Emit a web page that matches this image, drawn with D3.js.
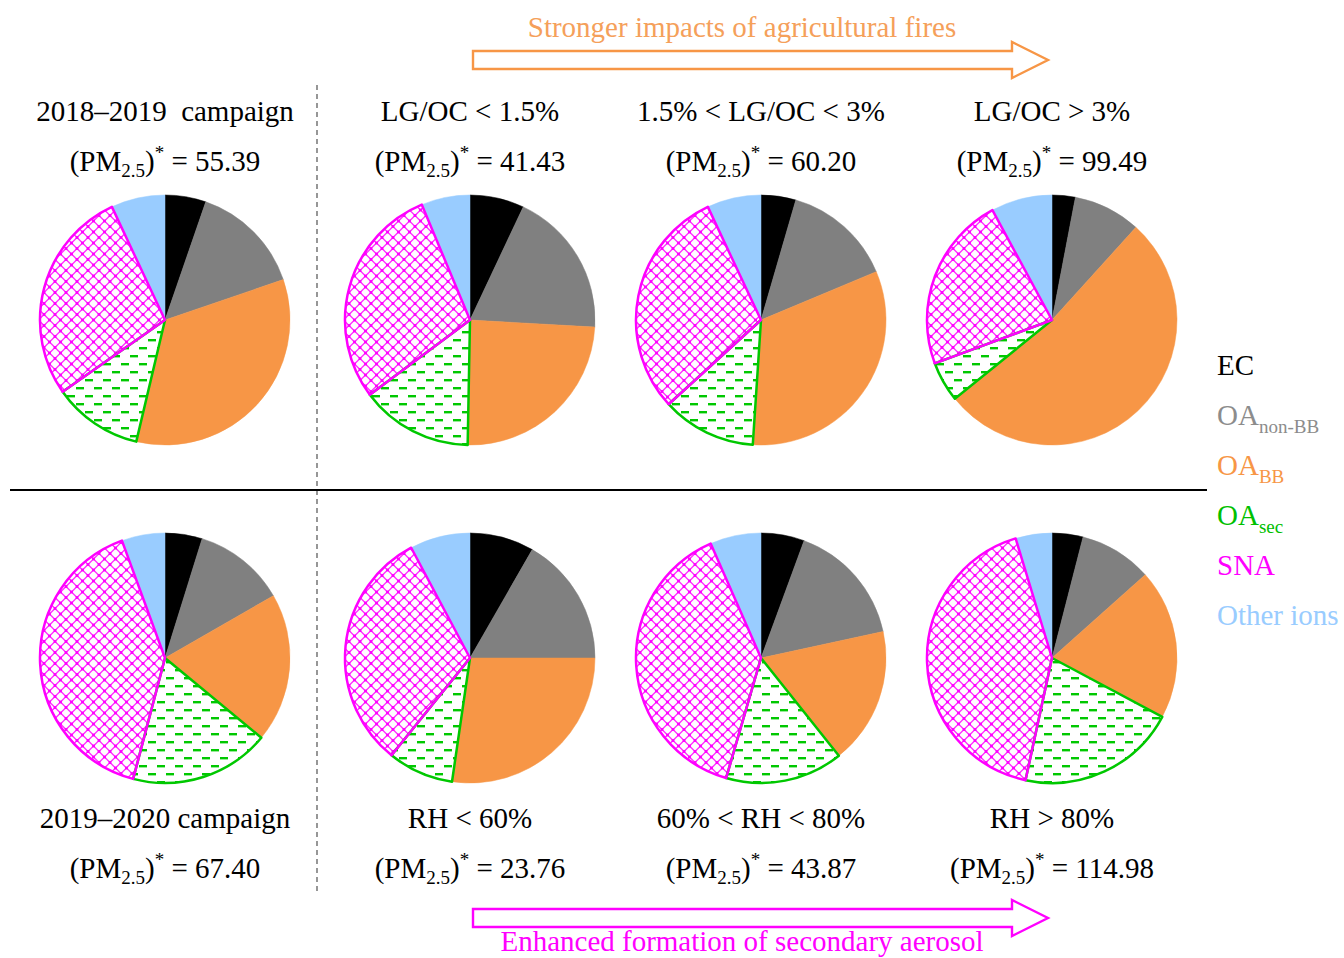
<!DOCTYPE html>
<html>
<head>
<meta charset="utf-8">
<script src="https://cdn.jsdelivr.net/npm/d3@7"></script>
<style>
  html, body { margin: 0; padding: 0; background: #fff; }
  svg { display: block; }
  text { font-family: "Liberation Serif", "Times New Roman", serif; }
</style>
</head>
<body>
<svg id="chart" width="1344" height="958"></svg>
<script>
// PM2.5 component shares (%) for each panel: four top panels, then four bottom panels
const components = ["EC", "OA_non-BB", "OA_BB", "OA_sec", "SNA", "Other ions"];
const ec        = [5.3, 7.0, 4.5, 3.0, 4.8, 8.3, 5.6, 4.0];
const oaNonBB   = [14.5, 18.9, 14.2, 8.7, 11.9, 16.7, 16.0, 9.4];
const oaBB      = [34.0, 24.4, 32.4, 52.4, 19.3, 27.3, 17.7, 19.4];
const oaSec     = [11.6, 14.5, 12.2, 5.2, 18.1, 8.5, 15.2, 20.6];
const sna       = [27.8, 28.9, 29.8, 22.7, 40.3, 31.4, 38.9, 41.9];
const otherIons = [7.0, 6.3, 7.0, 7.9, 5.6, 7.8, 6.6, 4.7];

const panelTitles = ["2018\u20132019  campaign", "LG/OC < 1.5%", "1.5% < LG/OC < 3%", "LG/OC > 3%",
                     "2019\u20132020 campaign", "RH < 60%", "60% < RH < 80%", "RH > 80%"];
const pmValues = ["55.39", "41.43", "60.20", "99.49", "67.40", "23.76", "43.87", "114.98"];

const legendMain = ["EC", "OA", "OA", "OA", "SNA", "Other ions"];
const legendSub  = ["", "non-BB", "BB", "sec", "", ""];

const topArrowText = "Stronger impacts of agricultural fires";
const bottomArrowText = "Enhanced formation of secondary aerosol";

const fills = ["#000000", "#808080", "#F79646", "url(#dashGreen)", "url(#latticeMagenta)", "#99CCFF"];
const outlines = [null, null, null, "#00C800", "#FF00FF", null];
const legendColors = ["#000000", "#8C8C8C", "#F79646", "#00C000", "#FF00FF", "#99CCFF"];

const svg = d3.select("#chart");
const defs = svg.append("defs");

// horizontal dash fill for secondary OA
const dash = defs.append("pattern").attr("id", "dashGreen")
  .attr("patternUnits", "userSpaceOnUse").attr("width", 18).attr("height", 16);
dash.append("rect").attr("width", 18).attr("height", 16).attr("fill", "#fff");
dash.append("rect").attr("x", 1).attr("y", 3).attr("width", 8).attr("height", 2.4).attr("fill", "#00C800");
dash.append("rect").attr("x", 10).attr("y", 11).attr("width", 8).attr("height", 2.4).attr("fill", "#00C800");

// diamond lattice fill for SNA
const lat = defs.append("pattern").attr("id", "latticeMagenta")
  .attr("patternUnits", "userSpaceOnUse").attr("width", 11).attr("height", 11);
lat.append("rect").attr("width", 11).attr("height", 11).attr("fill", "#fff");
lat.append("path").attr("d", "M0,5.5 L5.5,0 L11,5.5 L5.5,11 Z")
  .attr("fill", "none").attr("stroke", "#FF33FF").attr("stroke-width", 1.4);
[[5.5,0],[0,5.5],[11,5.5],[5.5,11]].forEach(([x, y]) =>
  lat.append("rect").attr("x", x - 1.4).attr("y", y - 1.4).attr("width", 2.8).attr("height", 2.8).attr("fill", "#FF00FF"));

// panel geometry
const colX = [165, 470, 761, 1052];
const rowY = [320, 658];
const radius = 125;

const pie = d3.pie().sort(null).value(d => d.v);
const arc = d3.arc().innerRadius(0).outerRadius(radius);

for (let i = 0; i < 8; i++) {
  const cx = colX[i % 4], cy = rowY[Math.floor(i / 4)];
  const vals = [ec[i], oaNonBB[i], oaBB[i], oaSec[i], sna[i], otherIons[i]]
    .map((v, k) => ({ v, k }));
  const arcs = pie(vals);
  const g = svg.append("g").attr("transform", `translate(${cx},${cy})`);
  g.selectAll("path.fill").data(arcs).join("path")
    .attr("class", "fill")
    .attr("d", arc)
    .attr("fill", d => fills[d.data.k])
    .attr("stroke", d => fills[d.data.k].startsWith("#") ? fills[d.data.k] : "none")
    .attr("stroke-width", 0.5);
  g.selectAll("path.edge").data(arcs.filter(d => outlines[d.data.k])).join("path")
    .attr("class", "edge")
    .attr("d", arc)
    .attr("fill", "none")
    .attr("stroke", d => outlines[d.data.k])
    .attr("stroke-width", 2.5)
    .attr("stroke-linejoin", "round");
}

// panel titles and PM2.5 lines
const titleSize = 29;
const subSize = 19;
function pmLine(x, y, value) {
  const t = svg.append("text").attr("x", x).attr("y", y).attr("text-anchor", "middle")
    .attr("font-size", titleSize).attr("fill", "#000");
  t.append("tspan").text("(PM");
  t.append("tspan").attr("font-size", subSize).attr("dy", 6).text("2.5");
  t.append("tspan").attr("dy", -6).text(")");
  t.append("tspan").attr("font-size", subSize).attr("dy", -12).text("*");
  t.append("tspan").attr("dy", 12).text(" = " + value);
}
for (let i = 0; i < 8; i++) {
  const x = colX[i % 4];
  const top = i < 4;
  const ty = top ? 121 : 828;
  svg.append("text").attr("x", x).attr("y", ty).attr("text-anchor", "middle")
    .attr("font-size", titleSize).attr("fill", "#000")
    .style("white-space", "pre").attr("xml:space", "preserve")
    .text(panelTitles[i]);
  pmLine(x, ty + 50, pmValues[i]);
}

// separators
svg.append("line").attr("x1", 317).attr("x2", 317).attr("y1", 85).attr("y2", 892)
  .attr("stroke", "#8C8C8C").attr("stroke-width", 1.8).attr("stroke-dasharray", "5,4");
svg.append("line").attr("x1", 10).attr("x2", 1207).attr("y1", 490).attr("y2", 490)
  .attr("stroke", "#000").attr("stroke-width", 2);

// legend
legendMain.forEach((m, k) => {
  const t = svg.append("text").attr("x", 1217).attr("y", 375 + k * 50)
    .attr("font-size", titleSize).attr("fill", legendColors[k]);
  t.append("tspan").text(m);
  if (legendSub[k]) t.append("tspan").attr("font-size", subSize).attr("dy", 8).text(legendSub[k]);
});

// direction arrows
function arrow(y, color) {
  const x0 = 473, xb = 1012, xt = 1048, h = 9, H = 18;
  const p = `M${x0},${y - h} L${xb},${y - h} L${xb},${y - H} L${xt},${y} L${xb},${y + H} L${xb},${y + h} L${x0},${y + h} Z`;
  svg.append("path").attr("d", p).attr("fill", "none").attr("stroke", color).attr("stroke-width", 2.4);
}
arrow(60, "#F79646");
arrow(918, "#FF00FF");
svg.append("text").attr("x", 742).attr("y", 37).attr("text-anchor", "middle")
  .attr("font-size", titleSize).attr("fill", "#F5A05A").text(topArrowText);
svg.append("text").attr("x", 742).attr("y", 951).attr("text-anchor", "middle")
  .attr("font-size", titleSize).attr("fill", "#FF00FF").text(bottomArrowText);
</script>
</body>
</html>
